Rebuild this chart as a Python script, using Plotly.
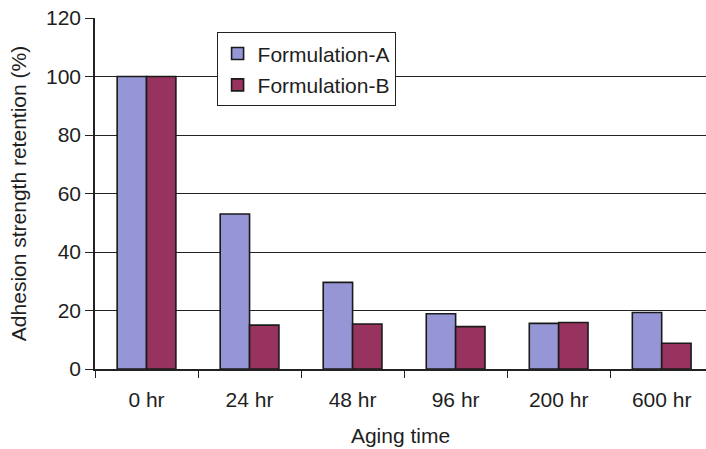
import plotly.graph_objects as go

# Aging time categories and strength retention (%) for both formulations
aging_time = ["0 hr", "24 hr", "48 hr", "96 hr", "200 hr", "600 hr"]
formulation_a = [100, 53.0, 29.6, 18.9, 15.6, 19.3]
formulation_b = [100, 15.0, 15.4, 14.5, 15.9, 8.8]
y_ticks = [0, 20, 40, 60, 80, 100, 120]

FONT = "Liberation Sans, Arial, sans-serif"

fig = go.Figure()
fig.add_trace(go.Bar(
    name="Formulation-A", x=aging_time, y=formulation_a, legendgroup="a",
    marker=dict(color="#9696d6", line=dict(color="#1a1a1a", width=1.6)),
))
fig.add_trace(go.Bar(
    name="Formulation-B", x=aging_time, y=formulation_b, legendgroup="b",
    marker=dict(color="#98335f", line=dict(color="#1a1a1a", width=1.6)),
))

fig.update_layout(
    width=706, height=449,
    margin=dict(l=95, r=0, t=18, b=80),
    paper_bgcolor="white", plot_bgcolor="white",
    barmode="group", bargap=0.43, bargroupgap=0,
    font=dict(family=FONT, size=21, color="#1e1e1e"),
    showlegend=True,
    legend=dict(
        x=0.199, y=0.959, xanchor="left", yanchor="top",
        bgcolor="white", bordercolor="#222222", borderwidth=1,
        font=dict(size=21), tracegroupgap=1, itemwidth=30,
    ),
    xaxis=dict(
        type="category", range=[-0.5, 5.43],
        showline=True, linecolor="#222222", linewidth=1.5,
        ticks="outside", tickson="boundaries", ticklen=7,
        tickcolor="#222222", tickwidth=1,
        ticklabelstandoff=11, tickfont=dict(size=21),
        showgrid=False,
        title=dict(text="Aging time", standoff=18, font=dict(size=21)),
    ),
    yaxis=dict(
        range=[0, 120], tickvals=y_ticks,
        showline=True, linecolor="#222222", linewidth=1.5,
        ticks="outside", ticklen=8, tickcolor="#222222", tickwidth=1,
        tickfont=dict(size=21),
        showgrid=True, gridcolor="#222222", gridwidth=1,
        zeroline=False,
        title=dict(text="Adhesion strength retention (%)", standoff=14,
                   font=dict(size=21)),
    ),
)

fig.write_html("out.html")
